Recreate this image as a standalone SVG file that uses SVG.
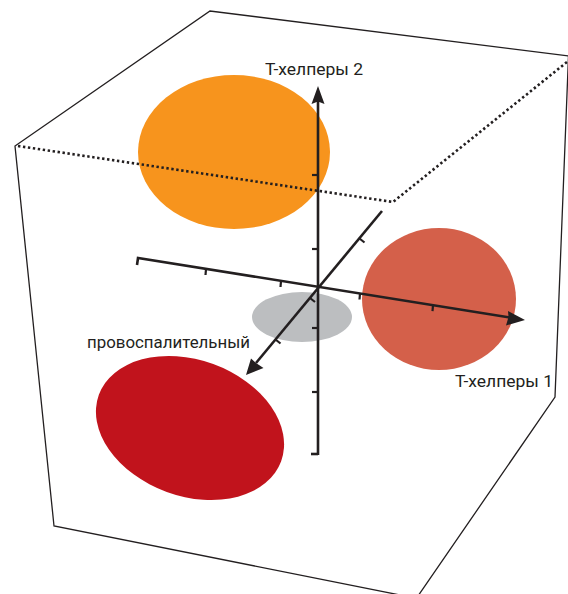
<svg xmlns="http://www.w3.org/2000/svg" width="568" height="594" viewBox="0 0 568 594">
<style>
.cube{fill:none;stroke:#231f20;stroke-width:1.3;stroke-linejoin:miter}
.dot{fill:none;stroke:#231f20;stroke-width:2.6;stroke-dasharray:2.4 2.6}
.axis{fill:none;stroke:#231f20;stroke-width:2.6;stroke-linecap:butt;stroke-linejoin:miter}
.tick{fill:none;stroke:#231f20;stroke-width:2.2}
.head{fill:#231f20;stroke:none}
.lbl{font-family:Roboto,"Liberation Sans",sans-serif;font-size:16px;fill:#231f20}
</style>
<rect width="568" height="594" fill="#ffffff"/>
<g id="clusters">
<ellipse id="orange" cx="234" cy="152" rx="96" ry="77" fill="#f7941d"/>
<ellipse id="coral" cx="439" cy="299" rx="77" ry="71" fill="#d4604a"/>
<ellipse id="gray" cx="302" cy="317" rx="50" ry="25" fill="#bcbec0"/>
<ellipse id="red" cx="190" cy="428" rx="97" ry="68" transform="rotate(20 190 428)" fill="#c1131c"/>
</g>
<g id="cube">
<polyline class="cube" points="568.5,56 210,11 15,146 54,526 400,595"/>
<polyline class="cube" points="418,596 555,397 568.5,56"/>
<polyline class="dot" points="18,146 393,202 567,62"/>
</g>
<g id="connectors">
<g id="axis-y">
<line class="axis" x1="318" y1="100" x2="318" y2="455"/>
<polyline class="axis" points="311,454 318,454"/>
<line class="tick" x1="312" y1="175" x2="318" y2="175"/>
<line class="tick" x1="312" y1="249" x2="318" y2="249"/>
<line class="tick" x1="312" y1="328" x2="318" y2="328"/>
<line class="tick" x1="312" y1="392" x2="318" y2="392"/>
<polygon class="head" points="318,86 324.5,104 318,101.5 311.5,104"/>
</g>
<g id="axis-x">
<polyline class="axis" points="137,265 138,258 510,317.5"/>
<line class="tick" x1="206" y1="268.9" x2="205.5" y2="275"/>
<line class="tick" x1="281" y1="280.9" x2="280.5" y2="287"/>
<line class="tick" x1="360" y1="293.5" x2="359.5" y2="299.5"/>
<line class="tick" x1="433" y1="305.2" x2="432.5" y2="311.2"/>
<polygon class="head" points="525,320 506,325.5 508.5,317 508,311"/>
</g>
<g id="axis-z">
<line class="axis" x1="382" y1="211" x2="256" y2="363"/>
<line class="tick" x1="359.5" y1="238.5" x2="364.5" y2="242.5"/>
<line class="tick" x1="310" y1="298" x2="315" y2="302"/>
<line class="tick" x1="275.5" y1="339.5" x2="280.5" y2="343.5"/>
<polygon class="head" points="246,375 251,358.5 256,363 263.5,368"/>
</g>
</g>
<g id="labels">
<text class="lbl" x="265" y="75" textLength="98" lengthAdjust="spacingAndGlyphs">T-хелперы 2</text>
<text class="lbl" x="87" y="348" textLength="163" lengthAdjust="spacingAndGlyphs">провоспалительный</text>
<text class="lbl" x="455" y="387" textLength="98" lengthAdjust="spacingAndGlyphs">T-хелперы 1</text>
</g>
</svg>
